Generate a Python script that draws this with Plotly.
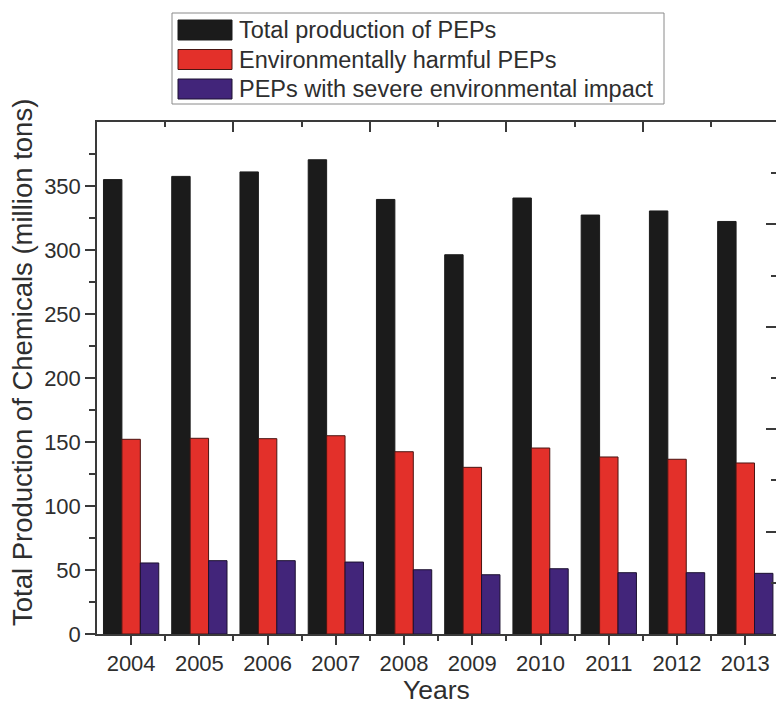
import plotly.graph_objects as go

# ---- data -------------------------------------------------------------
YEARS = [2004, 2005, 2006, 2007, 2008, 2009, 2010, 2011, 2012, 2013]
TOTAL_PEPS = [355.0, 357.5, 361.0, 370.5, 339.5, 296.3, 340.6, 327.3, 330.5, 322.3]
HARMFUL_PEPS = [152.1, 152.9, 152.6, 154.9, 142.4, 130.2, 145.3, 138.3, 136.5, 133.6]
SEVERE_PEPS = [55.5, 57.3, 57.3, 56.2, 50.2, 46.3, 51.0, 47.9, 47.9, 47.4]
SERIES_NAMES = [
    "Total production of PEPs",
    "Environmentally harmful PEPs",
    "PEPs with severe environmental impact",
]
Y_TICKS = [0, 50, 100, 150, 200, 250, 300, 350]

# ---- styling ----------------------------------------------------------
FONT = "Liberation Sans, Arial, sans-serif"
INK = "#2e2e2e"
AXIS = "#3a3a3a"
FILLS = ["#1b1b1b", "#e3302a", "#42257a"]
EDGES = ["#1b1b1b", "#4a1512", "#1c1030"]

W, H = 776, 704
L, R, T, B = 97, 776, 122, 634


def px(x):
    return (x - L) / (R - L)


def py(y):
    return (B - y) / (B - T)


fig = go.Figure()
for name, vals, fill, edge in zip(SERIES_NAMES, [TOTAL_PEPS, HARMFUL_PEPS, SEVERE_PEPS], FILLS, EDGES):
    fig.add_trace(go.Bar(
        x=YEARS, y=vals, name=name,
        marker=dict(color=fill, line=dict(color=edge, width=1)),
        showlegend=False,
    ))

# carrier for the secondary frame axes (top / right tick marks)
fig.add_trace(go.Scatter(
    x=[YEARS[0]], y=[0], xaxis="x2", yaxis="y2", mode="markers",
    marker=dict(opacity=0), hoverinfo="skip", showlegend=False,
))

x_range = [2003.5, 2013.45]
mids = [y + 0.5 for y in YEARS[:-1]]

fig.update_layout(
    width=W, height=H,
    margin=dict(l=L, r=W - R, t=T, b=H - B, pad=0),
    paper_bgcolor="white", plot_bgcolor="white",
    barmode="group", bargap=0.19, bargroupgap=0,
    font=dict(family=FONT, color=INK, size=22),
    xaxis=dict(
        range=x_range, tickmode="array", tickvals=YEARS, ticktext=[str(y) for y in YEARS],
        ticks="outside", ticklen=9, tickwidth=1.5, tickcolor=AXIS,
        minor=dict(tickmode="array", tickvals=mids, ticks="outside", ticklen=5,
                   tickwidth=1.5, tickcolor=AXIS, showgrid=False),
        showline=True, linecolor=AXIS, linewidth=1.5, showgrid=False, zeroline=False,
        tickfont=dict(size=22, color=INK, family=FONT),
    ),
    yaxis=dict(
        range=[0, 400], tickmode="array", tickvals=Y_TICKS,
        ticks="outside", ticklen=10, tickwidth=1.5, tickcolor=AXIS,
        minor=dict(tickmode="array", tickvals=[t + 25 for t in Y_TICKS], ticks="outside",
                   ticklen=6, tickwidth=1.5, tickcolor=AXIS, showgrid=False),
        showline=True, linecolor=AXIS, linewidth=1.5, showgrid=False, zeroline=False,
        tickfont=dict(size=22, color=INK, family=FONT),
    ),
    xaxis2=dict(
        overlaying="x", side="top", anchor="y2", range=x_range,
        tickmode="array", tickvals=mids[1::2], ticks="inside", ticklen=10,
        tickwidth=1.5, tickcolor=AXIS,
        minor=dict(tickmode="array", tickvals=mids[0::2], ticks="inside", ticklen=5,
                   tickwidth=1.5, tickcolor=AXIS, showgrid=False),
        showticklabels=False, showline=True, linecolor=AXIS, linewidth=1.5,
        showgrid=False, zeroline=False,
    ),
    yaxis2=dict(
        overlaying="y", side="right", anchor="x2", range=[0, 400],
        tickmode="array", tickvals=[80, 160, 240, 320], ticks="inside", ticklen=10,
        tickwidth=1.5, tickcolor=AXIS,
        minor=dict(tickmode="array", tickvals=[40, 120, 200, 280, 360], ticks="inside",
                   ticklen=5, tickwidth=1.5, tickcolor=AXIS, showgrid=False),
        showticklabels=False, showline=False, showgrid=False, zeroline=False,
    ),
)

# axis titles
fig.add_annotation(
    x=px(22), y=py(363), xref="paper", yref="paper",
    text="Total Production of Chemicals (million tons)", textangle=-90,
    showarrow=False, xanchor="center", yanchor="middle",
    font=dict(size=27.5, color=INK, family=FONT),
)
fig.add_annotation(
    x=px(436), y=py(690), xref="paper", yref="paper",
    text="Years", showarrow=False, xanchor="center", yanchor="middle",
    font=dict(size=26.5, color=INK, family=FONT),
)

# legend box with wide colour swatches
fig.add_shape(type="rect", xref="paper", yref="paper",
              x0=px(172), x1=px(664), y0=py(104), y1=py(13),
              line=dict(color="#8a8a8a", width=1), fillcolor="white", layer="above")
row_centers = [30, 59.5, 89]
for name, fill, edge, yc in zip(SERIES_NAMES, FILLS, EDGES, row_centers):
    fig.add_shape(type="rect", xref="paper", yref="paper",
                  x0=px(178), x1=px(232), y0=py(yc + 10), y1=py(yc - 10),
                  line=dict(color=edge, width=1), fillcolor=fill, layer="above")
    fig.add_annotation(x=px(237), y=py(yc), xref="paper", yref="paper",
                       text=name, showarrow=False, xanchor="left", yanchor="middle",
                       font=dict(size=23.5, color=INK, family=FONT))

fig.write_html("out.html")
